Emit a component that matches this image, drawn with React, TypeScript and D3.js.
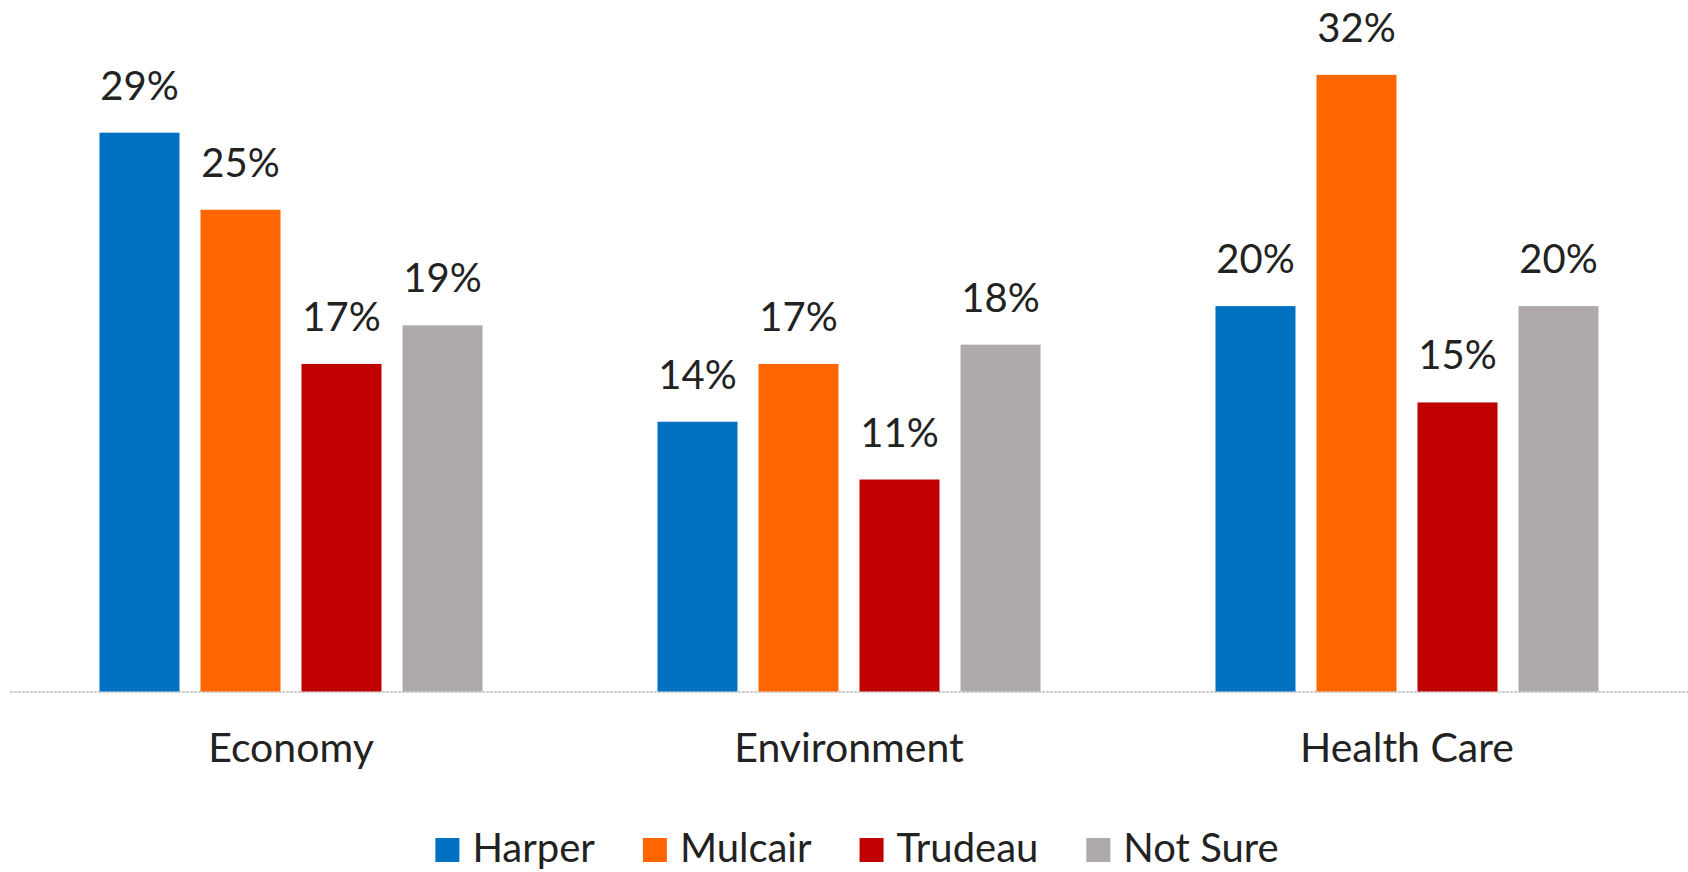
import React, { useEffect, useRef } from "react";
import * as d3 from "d3";

const categories = ["Economy", "Environment", "Health Care"];
const seriesNames = ["Harper", "Mulcair", "Trudeau", "Not Sure"];
const seriesColors = ["#0070C0", "#FF6600", "#C00000", "#AEAAAA"];
const harper = [29, 14, 20];
const mulcair = [25, 17, 32];
const trudeau = [17, 11, 15];
const notSure = [19, 18, 20];
const seriesValues = [harper, mulcair, trudeau, notSure];

const W = 1688;
const H = 872;
const FONT = "Lato, 'Open Sans', sans-serif";

export default function App() {
  const ref = useRef<SVGSVGElement | null>(null);

  useEffect(() => {
    const svg = d3.select(ref.current);
    svg.selectAll("*").remove();

    const baseline = 691.5;
    const x0 = d3.scaleBand<string>().domain(categories).range([12, 1686]).padding(0);
    const x1 = d3
      .scaleBand<string>()
      .domain(seriesNames)
      .range([0, x0.bandwidth()])
      .paddingInner(0.208)
      .paddingOuter(0.866);
    const y = d3.scaleLinear().domain([0, 35]).range([baseline, baseline - 35 * 19.27]);

    const data = categories.flatMap((c, ci) =>
      seriesNames.map((s, si) => ({ c, s, si, v: seriesValues[si][ci] }))
    );

    // baseline axis
    svg
      .append("line")
      .attr("x1", 10)
      .attr("x2", W)
      .attr("y1", baseline + 0.5)
      .attr("y2", baseline + 0.5)
      .attr("stroke", "#cfcfcf")
      .attr("stroke-width", 2)
      .attr("stroke-dasharray", "3,1");

    const g = svg.append("g");
    g.selectAll("rect.bar")
      .data(data)
      .join("rect")
      .attr("class", "bar")
      .attr("x", (d) => (x0(d.c) as number) + (x1(d.s) as number))
      .attr("width", x1.bandwidth())
      .attr("y", (d) => y(d.v))
      .attr("height", (d) => baseline - y(d.v))
      .attr("fill", (d) => seriesColors[d.si]);

    g.selectAll("text.val")
      .data(data)
      .join("text")
      .attr("class", "val")
      .attr("x", (d) => (x0(d.c) as number) + (x1(d.s) as number) + x1.bandwidth() / 2)
      .attr("y", (d) => y(d.v) - 33)
      .attr("text-anchor", "middle")
      .attr("font-family", FONT)
      .attr("font-size", 40)
      .attr("fill", "#222")
      .text((d) => `${d.v}%`);

    svg
      .selectAll("text.cat")
      .data(categories)
      .join("text")
      .attr("class", "cat")
      .attr("x", (d) => (x0(d) as number) + x0.bandwidth() / 2)
      .attr("y", 762)
      .attr("text-anchor", "middle")
      .attr("font-family", FONT)
      .attr("font-size", 41)
      .attr("fill", "#222")
      .text((d) => d);

    // legend
    const leg = svg.append("g");
    const items = leg
      .selectAll("g.item")
      .data(seriesNames)
      .join("g")
      .attr("class", "item");
    items
      .append("rect")
      .attr("width", 24)
      .attr("height", 24)
      .attr("y", 838)
      .attr("fill", (_d, i) => seriesColors[i]);
    const texts = items
      .append("text")
      .attr("x", 37)
      .attr("y", 862)
      .attr("font-family", FONT)
      .attr("font-size", 40)
      .attr("fill", "#222")
      .text((d) => d);
    const widths: number[] = [];
    texts.each(function () {
      widths.push((this as SVGTextElement).getComputedTextLength());
    });
    const gap = 48;
    const itemW = widths.map((w) => 37 + w);
    const total = d3.sum(itemW) + gap * (itemW.length - 1);
    let cx = 857 - total / 2;
    items.attr("transform", (_d, i) => {
      const t = `translate(${cx},0)`;
      cx += itemW[i] + gap;
      return t;
    });
  }, []);

  return (
    <svg
      ref={ref}
      width={W}
      height={H}
      style={{ position: "absolute", left: 0, top: 0, display: "block", background: "#fff" }}
    />
  );
}
